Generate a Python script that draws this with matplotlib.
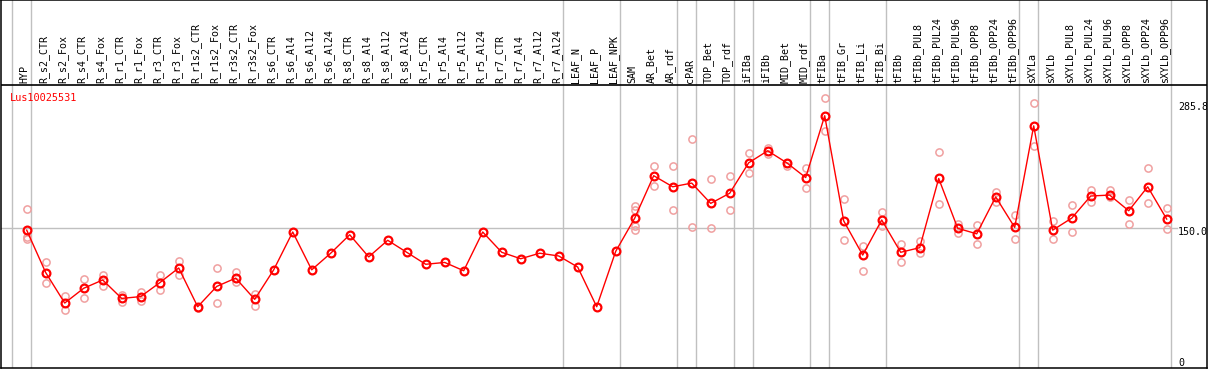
import numpy as np
import matplotlib
matplotlib.use("Agg")
import matplotlib.pyplot as plt

# sample names (column order)
samples = ["HYP",
           "R_s2_CTR", "R_s2_Fox", "R_s4_CTR", "R_s4_Fox", "R_r1_CTR", "R_r1_Fox",
           "R_r3_CTR", "R_r3_Fox", "R_r1s2_CTR", "R_r1s2_Fox", "R_r3s2_CTR", "R_r3s2_Fox",
           "R_s6_CTR", "R_s6_Al4", "R_s6_Al12", "R_s6_Al24",
           "R_s8_CTR", "R_s8_Al4", "R_s8_Al12", "R_s8_Al24",
           "R_r5_CTR", "R_r5_Al4", "R_r5_Al12", "R_r5_Al24",
           "R_r7_CTR", "R_r7_Al4", "R_r7_Al12", "R_r7_Al24",
           "LEAF_N", "LEAF_P", "LEAF_NPK",
           "SAM", "AR_Bet", "AR_rdf", "cPAR", "TOP_Bet", "TOP_rdf",
           "iFIBa", "iFIBb", "MID_Bet", "MID_rdf",
           "tFIBa", "tFIB_Gr", "tFIB_Li", "tFIB_Bi",
           "tFIBb", "tFIBb_PUL8", "tFIBb_PUL24", "tFIBb_PUL96",
           "tFIBb_OPP8", "tFIBb_OPP24", "tFIBb_OPP96",
           "sXYLa", "sXYLb", "sXYLb_PUL8", "sXYLb_PUL24", "sXYLb_PUL96",
           "sXYLb_OPP8", "sXYLb_OPP24", "sXYLb_OPP96"]

# mean expression
means = [148, 102, 69, 85, 94, 74, 76, 91, 107, 65, 87, 96, 73,
         105, 146, 105, 123, 143, 119, 137, 124, 111, 113, 104, 146,
         124, 117, 123, 120, 108, 65, 125,
         161, 207, 195, 199, 177, 188, 221, 234, 221, 205,
         272, 158, 121, 159,
         124, 129, 204, 150, 144, 184, 151,
         261, 148, 161, 185, 186, 169, 195, 160]

# replicate values (empty = no replicates shown)
replicates = [[171, 141, 138], [113, 91], [77, 61], [95, 74], [99, 88], [78, 70],
              [81, 71], [99, 83], [115, 99], [64], [107, 69], [103, 92], [79, 66],
              [], [], [], [], [], [], [], [], [], [], [], [], [], [], [], [], [], [], [],
              [174, 170, 153, 148], [217, 196], [218, 170], [247, 151], [203, 150],
              [207, 170], [232, 210], [237, 230], [221, 217], [215, 194],
              [291, 255], [182, 137], [131, 104], [168, 153],
              [133, 114], [136, 123], [233, 176], [155, 145], [154, 133], [189, 179],
              [164, 138],
              [286, 239], [158, 138], [175, 146], [191, 178], [191, 184],
              [181, 155], [215, 177], [172, 149]]

# group boundaries: a separator line follows these columns
group_ends = [-1, 0, 28, 31, 34, 35, 37, 38, 41, 42, 45, 52, 53, 60]

title = "Lus10025531"
y_ticks = [0, 150.0, 285.8]
y_tick_labels = ["0", "150.0", "285.8"]

W, H = 1209, 370
fig = plt.figure(figsize=(W / 100, H / 100), dpi=100)
# axes box in pixels: x 1..1207, y 0..368 (from top)
ax = fig.add_axes([1 / W, (H - 368) / H, 1206 / W, 368 / H])

# pixel scale: column k at 26.7 + 19k px; value v at 366.7 - 0.9227 v px
px0, dx = 26.7, 19.0
py0, dy = 366.7, 0.9227
ax.set_xlim((1 - px0) / dx, (1207 - px0) / dx)
ax.set_ylim((py0 - 368) / dy, py0 / dy)
header_y = (py0 - 85) / dy

xs = np.arange(len(samples))
mono = "DejaVu Sans Mono"

# vertical group separators (full height)
for g in group_ends:
    ax.axvline(g + 4 / dx, color="#c0c0c0", lw=1.0, zorder=1)
# header separator
ax.axhline(header_y, color="black", lw=1.2, zorder=2)
# 150 reference line
ax.plot([ax.get_xlim()[0], (1177 - px0) / dx], [150, 150], color="#c0c0c0", lw=1.0, zorder=1)

# replicates
for x, reps in zip(xs, replicates):
    if reps:
        ax.plot([x] * len(reps), reps, "o", ms=5.2, mfc="none", mec="#f0a0a0", mew=1.1, zorder=3)

# means
ax.plot(xs, means, "-", color="red", lw=1.0, zorder=4)
ax.plot(xs, means, "o", ms=5.6, mfc="none", mec="red", mew=1.6, zorder=5)

# column labels in the header
for x, s in zip(xs, samples):
    ax.text(x - 0.1, (py0 - 83) / dy, s, rotation=90, ha="center", va="bottom",
            fontsize=7.2, family=mono, color="black")

# title
ax.text((10 - px0) / dx, (py0 - 98) / dy, title, ha="left", va="center",
        fontsize=7.4, family=mono, color="red")

# y value labels on the right
for v, lab in zip(y_ticks, y_tick_labels):
    yy = v - 4 / dy if v > 0 else v + 4 / dy
    ax.text((1178 - px0) / dx, yy, lab, ha="left", va="center",
            fontsize=7.2, family=mono, color="black", clip_on=True)

ax.set_xticks([])
ax.set_yticks([])
for sp in ax.spines.values():
    sp.set_color("black")
    sp.set_linewidth(1.1)

fig.savefig("out.png", dpi=100)
